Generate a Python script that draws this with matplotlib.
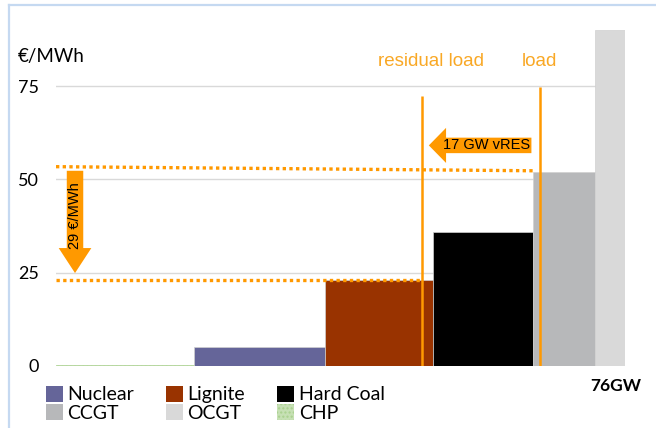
import matplotlib
matplotlib.use("Agg")
import matplotlib.pyplot as plt
from matplotlib.patches import Patch, FancyArrow
from matplotlib.lines import Line2D

# merit order data: capacity (GW) and marginal cost (EUR/MWh)
techs = ["CHP", "Nuclear", "Lignite", "Hard Coal", "CCGT", "OCGT"]
capacity = [18.4, 17.5, 14.4, 13.4, 8.3, 4.0]
cost = [0.3, 5, 23, 36, 52, 90]
colors = ["#c6e0b4", "#656599", "#993300", "#000000", "#b7b8ba", "#d9d9d9"]

residual_load = 48.9
load = 64.6
price_low = 23
yticks = [0, 25, 50, 75]

orange = "#ff9900"
txt_orange = "#f9a825"

plt.rcParams["font.family"] = ["Lato", "DejaVu Sans"]

fig = plt.figure(figsize=(6.56, 4.28), dpi=100)
ax = fig.add_axes([56 / 656, 62 / 428, 569 / 656, 354.6 / 428])
ax.set_xlim(0, 76)
ax.set_ylim(0, 95)

# bars in merit order
left = 0
for name, w, c, col in zip(techs, capacity, cost, colors):
    if name == "CHP":
        ax.bar(left, c, width=w, align="edge", color=col, edgecolor="#a9d18e",
               hatch="....", linewidth=0.5, zorder=2)
    else:
        ax.bar(left, c, width=w, align="edge", color=col, edgecolor="#d0d0d0",
               linewidth=0.5, zorder=2)
    left += w

ax.set_yticks(yticks)
ax.set_xticks([])
ax.tick_params(axis="y", length=0, pad=12, labelsize=13)
ax.yaxis.grid(True, color="#d9d9d9", linewidth=1)
ax.set_axisbelow(True)
for s in ax.spines.values():
    s.set_visible(False)

# dotted price levels
ax.plot([0, 64], [53.4, 52.3], color=orange, linestyle=(0, (1, 1)), linewidth=2.4, zorder=4)
ax.plot([0, 48.9], [price_low, price_low], color=orange, linestyle=(0, (1, 1)),
        linewidth=2.4, zorder=4)

# load lines
ax.vlines(residual_load, 0, 72.3, color=orange, linewidth=1.8, zorder=5)
ax.vlines(load, 0, 74.7, color=orange, linewidth=1.8, zorder=5)

# price difference arrow
ax.add_patch(FancyArrow(2.54, 52.3, 0, -(52.3 - 24.9), width=2.2, head_width=4.36,
                        head_length=6.7, length_includes_head=True,
                        color=orange, linewidth=0, zorder=6))
ax.text(2.54, 40.4, "29 €/MWh", rotation=90, ha="center", va="center",
        fontsize=10.5, family="Liberation Sans", zorder=7)

# vRES arrow
ax.add_patch(FancyArrow(63.5, 59.1, -(63.5 - 49.8), 0, width=4.15, head_width=9.4,
                        head_length=2.3, length_includes_head=True,
                        color=orange, linewidth=0, zorder=6))
ax.text(57.5, 59.1, "17 GW vRES", ha="center", va="center",
        fontsize=10.5, family="Liberation Sans", zorder=7)

# labels above the chart
fig.text(431 / 656, 1 - 62 / 428, "residual load", color=txt_orange, ha="center",
         va="center", fontsize=13.5, family="Liberation Sans")
fig.text(539 / 656, 1 - 62 / 428, "load", color=txt_orange, ha="center",
         va="center", fontsize=13.5, family="Liberation Sans")
fig.text(18 / 656, 1 - 57 / 428, "€/MWh", ha="left", va="center", fontsize=13.5)
fig.text(616 / 656, 1 - 386 / 428, "76GW", ha="center", va="center",
         fontsize=12.5, fontweight="bold")

# legend (row-major order in the picture)
handles = {t: Patch(facecolor=c, edgecolor="none") for t, c in zip(techs, colors)}
handles["CHP"] = Patch(facecolor="#c6e0b4", edgecolor="#a9d18e", hatch="....", linewidth=0)
order = ["Nuclear", "CCGT", "Lignite", "OCGT", "Hard Coal", "CHP"]
fig.legend([handles[t] for t in order], order, ncol=3, loc="upper left",
           bbox_to_anchor=(46 / 656, 1 - 386 / 428), frameon=False, fontsize=14,
           handlelength=0.85, handleheight=0.85, handletextpad=0.25,
           columnspacing=1.65, labelspacing=0.05, borderpad=0, borderaxespad=0)

# slide frame lines
fig.add_artist(Line2D([9 / 656, 9 / 656], [0, 1 - 5 / 428], color="#c5d9f1",
                      linewidth=1.6, transform=fig.transFigure))
fig.add_artist(Line2D([9 / 656, 1], [1 - 5 / 428, 1 - 5 / 428], color="#c5d9f1",
                      linewidth=1.6, transform=fig.transFigure))

fig.savefig("out.png", dpi=100)
